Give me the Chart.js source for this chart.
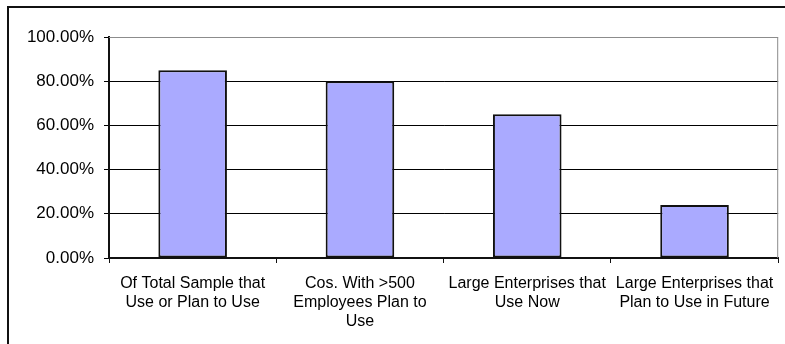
<!DOCTYPE html>
<html>
<head>
<meta charset="utf-8">
<script src="https://cdn.jsdelivr.net/npm/chart.js@4/dist/chart.umd.min.js"></script>
<style>
  html, body { margin: 0; padding: 0; background: #fff; }
  #wrap { width: 785px; height: 344px; position: relative; }
</style>
</head>
<body>
<div id="wrap"><canvas id="myChart"></canvas></div>
<script>
// category labels (wrapped as in the picture)
var categories = [
    ['Of Total Sample that', 'Use or Plan to Use'],
    ['Cos. With >500', 'Employees Plan to', 'Use'],
    ['Large Enterprises that', 'Use Now'],
    ['Large Enterprises that', 'Plan to Use in Future']
];
// percentages
var values = [85, 80, 65, 24];
var yTicks = [0, 20, 40, 60, 80, 100];

// outer frame + gray plot border
var frame = {
    id: 'frame',
    beforeDraw(chart){
        var ctx = chart.ctx;
        ctx.save();
        ctx.strokeStyle = '#111';
        ctx.lineWidth = 2;
        ctx.beginPath();
        ctx.moveTo(8, 344);
        ctx.lineTo(8, 7);
        ctx.lineTo(785, 7);
        ctx.stroke();
        ctx.restore();
    },
    afterDatasetsDraw(chart){
        var a = chart.chartArea;
        var ctx = chart.ctx;
        ctx.save();
        ctx.strokeStyle = '#8c8c8c';
        ctx.lineWidth = 1;
        ctx.beginPath();
        ctx.moveTo(a.left, a.top + 0.5);
        ctx.lineTo(a.right - 0.5, a.top + 0.5);
        ctx.lineTo(a.right - 0.5, a.bottom);
        ctx.stroke();
        ctx.restore();
    }
};

var ctx = document.getElementById('myChart').getContext('2d');
var chart = new Chart(ctx, {
    type: 'bar',
    data: {
        labels: categories,
        datasets: [{
            data: values,
            backgroundColor: 'rgb(170, 170, 255)',
            borderColor: '#111',
            borderWidth: 2,
            borderSkipped: false,
            categoryPercentage: 1,
            barPercentage: 0.41
        }]
    },
    options: {
        responsive: true,
        maintainAspectRatio: false,
        animation: false,
        layout: { padding: { top: 37, right: 6, left: 0, bottom: 0 } },
        plugins: { legend: { display: false }, tooltip: { enabled: false } },
        scales: {
            x: {
                afterFit(scale){ scale.height = 86; },
                border: { color: '#111', width: 2 },
                grid: { drawOnChartArea: false, tickLength: 5, color: '#111', offset: true },
                ticks: {
                    color: '#000',
                    padding: 11,
                    maxRotation: 0,
                    autoSkip: false,
                    font: { family: '"Liberation Sans", Arial, sans-serif', size: 16 }
                }
            },
            y: {
                min: 0,
                max: 100,
                afterFit(scale){ scale.width = 109; },
                afterBuildTicks(scale){ scale.ticks = yTicks.map(v => ({ value: v })); },
                border: { color: '#111', width: 2 },
                grid: {
                    color: c => (c.tick && c.tick.value === 100) ? '#8c8c8c' : '#000',
                    tickColor: '#000',
                    tickLength: 5,
                    lineWidth: 1
                },
                ticks: {
                    color: '#000',
                    padding: 10,
                    font: { family: '"Liberation Sans", Arial, sans-serif', size: 17 },
                    callback: v => v.toFixed(2) + '%'
                }
            }
        }
    },
    plugins: [frame]
});
</script>
</body>
</html>
